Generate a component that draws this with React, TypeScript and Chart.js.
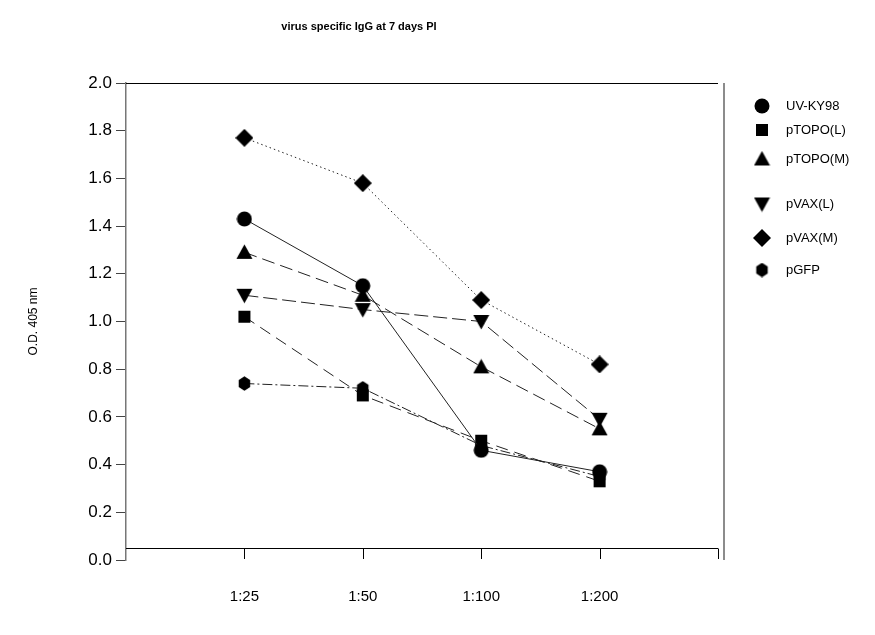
import React, { useEffect, useRef } from "react";
import { Chart, registerables } from "chart.js";

Chart.register(...registerables);

const categories = ["1:25", "1:50", "1:100", "1:200"];
const categoryPositions = [1, 2, 3, 4];
const xTickPositions = [1, 2, 3, 4, 5];
const seriesNames = ["UV-KY98", "pTOPO(L)", "pTOPO(M)", "pVAX(L)", "pVAX(M)", "pGFP"];
const uvKY98 = [1.43, 1.15, 0.46, 0.37];
const pTOPOL = [1.02, 0.69, 0.5, 0.33];
const pTOPOM = [1.29, 1.11, 0.81, 0.55];
const pVAXL = [1.11, 1.05, 1.0, 0.59];
const pVAXM = [1.77, 1.58, 1.09, 0.82];
const pGFP = [0.74, 0.72, 0.48, 0.35];
const yTicks = [0, 0.2, 0.4, 0.6, 0.8, 1.0, 1.2, 1.4, 1.6, 1.8, 2.0];
const xAxisLineValue = 0.05;

type Shape = "circle" | "square" | "triangle" | "invtriangle" | "diamond" | "hexagon";

function makeMarker(shape: Shape, size: number): HTMLCanvasElement {
  const c = document.createElement("canvas");
  c.width = size;
  c.height = size;
  const ctx = c.getContext("2d")!;
  const m = size / 2;
  ctx.fillStyle = "#000";
  ctx.beginPath();
  if (shape === "circle") {
    ctx.arc(m, m, m - 0.5, 0, Math.PI * 2);
  } else if (shape === "square") {
    ctx.rect(1, 1, size - 2, size - 2);
  } else if (shape === "triangle") {
    ctx.moveTo(m, 0.5);
    ctx.lineTo(size - 0.5, size - 2);
    ctx.lineTo(0.5, size - 2);
  } else if (shape === "invtriangle") {
    ctx.moveTo(m, size - 0.5);
    ctx.lineTo(size - 0.5, 2);
    ctx.lineTo(0.5, 2);
  } else if (shape === "diamond") {
    ctx.moveTo(m, 0);
    ctx.lineTo(size, m);
    ctx.lineTo(m, size);
    ctx.lineTo(0, m);
  } else {
    const r = m - 0.3;
    for (let i = 0; i < 6; i++) {
      const a = -Math.PI / 2 + (i * Math.PI) / 3;
      const px = m + r * Math.cos(a) * 0.92;
      const py = m + r * Math.sin(a);
      if (i === 0) ctx.moveTo(px, py);
      else ctx.lineTo(px, py);
    }
  }
  ctx.closePath();
  ctx.fill();
  return c;
}

export default function App() {
  const ref = useRef<HTMLCanvasElement | null>(null);

  useEffect(() => {
    document.body.style.margin = "0";
    const markers = [
      makeMarker("circle", 16),
      makeMarker("square", 14),
      makeMarker("triangle", 17),
      makeMarker("invtriangle", 17),
      makeMarker("diamond", 18),
      makeMarker("hexagon", 15),
    ];
    const seriesValues = [uvKY98, pTOPOL, pTOPOM, pVAXL, pVAXM, pGFP];
    const dashes = [[], [12, 7], [13, 6], [14, 5], [1.5, 3], [10, 3, 2, 3]];
    const legendY = [106, 130, 159, 204, 238, 270];

    const framePlugin = {
      id: "framePlugin",
      afterDraw(chart: any) {
        const ctx = chart.ctx;
        const { left, right, top, bottom } = chart.chartArea;
        const x = chart.scales.x;
        const y = chart.scales.y;
        ctx.save();
        ctx.lineWidth = 1;
        ctx.strokeStyle = "#000";
        // top line
        ctx.beginPath();
        ctx.moveTo(left, y.getPixelForValue(2) + 0.5);
        ctx.lineTo(right, y.getPixelForValue(2) + 0.5);
        ctx.stroke();
        // x axis line (offset)
        const ly = Math.round(y.getPixelForValue(xAxisLineValue)) + 0.5;
        ctx.beginPath();
        ctx.moveTo(left, ly);
        ctx.lineTo(right, ly);
        ctx.stroke();
        // x ticks
        for (const v of xTickPositions) {
          const px = Math.round(x.getPixelForValue(v)) + 0.5;
          ctx.beginPath();
          ctx.moveTo(px, ly);
          ctx.lineTo(px, bottom - 1);
          ctx.stroke();
        }
        // right line
        ctx.strokeStyle = "#666";
        ctx.lineWidth = 1.5;
        ctx.beginPath();
        ctx.moveTo(right + 6, top);
        ctx.lineTo(right + 6, bottom);
        ctx.stroke();
        // legend
        ctx.fillStyle = "#000";
        ctx.font = "13px Arial, 'Liberation Sans', sans-serif";
        ctx.textBaseline = "middle";
        ctx.textAlign = "left";
        seriesNames.forEach((name, i) => {
          const mk = markers[i];
          ctx.drawImage(mk, 762 - mk.width / 2, legendY[i] - mk.height / 2);
          ctx.fillText(name, 786, legendY[i]);
        });
        ctx.restore();
      },
    };

    const chart = new Chart(ref.current!, {
      type: "line",
      data: {
        datasets: seriesNames.map((name, i) => ({
          label: name,
          data: seriesValues[i].map((v, j) => ({ x: categoryPositions[j], y: v })),
          borderColor: "#222",
          borderWidth: 1,
          borderDash: dashes[i],
          pointStyle: markers[i] as any,
          pointRadius: 8,
          pointHoverRadius: 8,
          backgroundColor: "#000",
          fill: false,
          tension: 0,
        })),
      },
      options: {
        animation: false,
        responsive: false,
        events: [],
        layout: { padding: { top: 0, left: 0, right: 157, bottom: 30 } },
        plugins: {
          legend: { display: false },
          tooltip: { enabled: false },
          title: {
            display: true,
            text: "virus specific IgG at 7 days PI",
            color: "#000",
            font: { family: "Arial, 'Liberation Sans', sans-serif", size: 11, weight: "bold" },
            padding: { top: 20, bottom: 49.8 },
          },
        },
        scales: {
          x: {
            type: "linear",
            min: 0,
            max: 5,
            afterBuildTicks(scale: any) {
              scale.ticks = xTickPositions.map((v) => ({ value: v }));
            },
            afterFit(scale: any) {
              scale.height = 45;
            },
            ticks: {
              color: "#000",
              font: { family: "Arial, 'Liberation Sans', sans-serif", size: 15 },
              padding: 20,
              maxRotation: 0,
              autoSkip: false,
              callback: (v: any) => {
                const idx = categoryPositions.indexOf(Number(v));
                return idx >= 0 ? categories[idx] : "";
              },
            },
            grid: { display: false },
            border: { display: false },
          },
          y: {
            min: 0,
            max: 2,
            afterBuildTicks(scale: any) {
              scale.ticks = yTicks.map((v) => ({ value: v }));
            },
            afterFit(scale: any) {
              scale.width = 126;
            },
            ticks: {
              color: "#000",
              font: { family: "Arial, 'Liberation Sans', sans-serif", size: 17 },
              padding: 4,
              callback: (v: any) => Number(v).toFixed(1),
            },
            grid: {
              drawOnChartArea: false,
              drawTicks: true,
              tickLength: 10,
              color: "#444",
            },
            border: { display: true, color: "#777", width: 1.5 },
            title: {
              display: true,
              text: "O.D. 405 nm",
              color: "#000",
              font: { family: "Arial, 'Liberation Sans', sans-serif", size: 12 },
              padding: { top: 26, bottom: 0 },
            },
          },
        },
      },
      plugins: [framePlugin],
    });
    return () => chart.destroy();
  }, []);

  return (
    <div style={{ width: 875, height: 635 }}>
      <canvas ref={ref} width={875} height={635} style={{ display: "block" }} />
    </div>
  );
}
